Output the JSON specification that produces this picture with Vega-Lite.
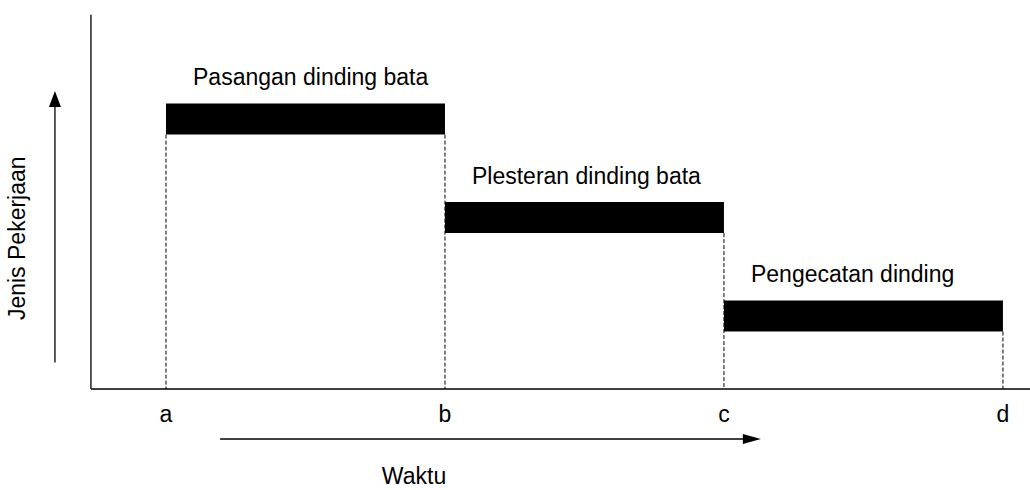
{
  "$schema": "https://vega.github.io/schema/vega-lite/v6.json",
  "width": 1030,
  "height": 490,
  "padding": 0,
  "autosize": {"type": "none"},
  "background": "white",
  "config": {"view": {"stroke": null}, "text": {"font": "Liberation Sans", "color": "black"}},
  "datasets": {
    "tasks": [
      {"task": "Pasangan dinding bata", "level": 3, "start": 0, "end": 1},
      {"task": "Plesteran dinding bata", "level": 2, "start": 1, "end": 2},
      {"task": "Pengecatan dinding", "level": 1, "start": 2, "end": 3}
    ],
    "ticks": [
      {"t": 0, "label": "a"},
      {"t": 1, "label": "b"},
      {"t": 2, "label": "c"},
      {"t": 3, "label": "d"}
    ],
    "titles": [
      {"t": -0.53, "level": 1.79, "label": "Jenis Pekerjaan", "angle": 270},
      {"t": 0.889, "level": -0.637, "label": "Waktu", "angle": 0}
    ]
  },
  "layer": [
    {
      "data": {"values": [{}]},
      "mark": {"type": "rule", "color": "black", "strokeWidth": 1.3},
      "encoding": {
        "x": {"datum": -0.269, "type": "quantitative", "scale": {"domain": [-0.595, 3.097], "nice": false, "zero": false}, "axis": null},
        "y": {"datum": 4.06, "type": "quantitative", "scale": {"domain": [-0.716, 4.159], "nice": false, "zero": false}, "axis": null},
        "y2": {"datum": 0.259}
      }
    },
    {
      "data": {"values": [{}]},
      "mark": {"type": "rule", "color": "black", "strokeWidth": 1.3},
      "encoding": {
        "x": {"datum": -0.269, "type": "quantitative"},
        "x2": {"datum": 3.097},
        "y": {"datum": 0.259, "type": "quantitative"}
      }
    },
    {
      "data": {"name": "tasks"},
      "mark": {"type": "bar", "color": "black", "height": 31, "orient": "horizontal"},
      "encoding": {
        "x": {"field": "start", "type": "quantitative"},
        "x2": {"field": "end"},
        "y": {"field": "level", "type": "quantitative"}
      }
    },
    {
      "data": {"name": "tasks"},
      "mark": {"type": "rule", "color": "black", "strokeWidth": 1, "strokeDash": [4, 2], "yOffset": 15.5},
      "encoding": {
        "x": {"field": "end", "type": "quantitative"},
        "y": {"field": "level", "type": "quantitative"},
        "y2": {"datum": 0.259}
      }
    },
    {
      "data": {"name": "tasks"},
      "transform": [{"filter": "datum.level == 3"}],
      "mark": {"type": "rule", "color": "black", "strokeWidth": 1, "strokeDash": [4, 2], "yOffset": 15.5},
      "encoding": {
        "x": {"field": "start", "type": "quantitative"},
        "y": {"field": "level", "type": "quantitative"},
        "y2": {"datum": 0.259}
      }
    },
    {
      "data": {"name": "tasks"},
      "mark": {"type": "text", "align": "left", "baseline": "middle", "dx": 27, "dy": -41, "fontSize": 23},
      "encoding": {
        "x": {"field": "start", "type": "quantitative"},
        "y": {"field": "level", "type": "quantitative"},
        "text": {"field": "task"}
      }
    },
    {
      "data": {"name": "ticks"},
      "mark": {"type": "text", "align": "center", "baseline": "middle", "dy": 26, "fontSize": 23},
      "encoding": {
        "x": {"field": "t", "type": "quantitative"},
        "y": {"datum": 0.259, "type": "quantitative"},
        "text": {"field": "label"}
      }
    },
    {
      "data": {"values": [{}]},
      "mark": {"type": "rule", "color": "black", "strokeWidth": 1.3},
      "encoding": {
        "x": {"datum": -0.398, "type": "quantitative"},
        "y": {"datum": 0.527, "type": "quantitative"},
        "y2": {"datum": 3.17}
      }
    },
    {
      "data": {"values": [{}]},
      "mark": {"type": "point", "filled": true, "color": "black", "opacity": 1, "size": 256, "shape": "M0,-1L0.75,1L-0.75,1Z"},
      "encoding": {
        "x": {"datum": -0.398, "type": "quantitative"},
        "y": {"datum": 3.204, "type": "quantitative"}
      }
    },
    {
      "data": {"values": [{}]},
      "mark": {"type": "rule", "color": "black", "strokeWidth": 1.3},
      "encoding": {
        "x": {"datum": 0.194, "type": "quantitative"},
        "x2": {"datum": 2.08},
        "y": {"datum": -0.249, "type": "quantitative"}
      }
    },
    {
      "data": {"values": [{}]},
      "mark": {"type": "point", "filled": true, "color": "black", "opacity": 1, "size": 324, "shape": "M1,0L-1,-0.55L-1,0.55Z"},
      "encoding": {
        "x": {"datum": 2.1, "type": "quantitative"},
        "y": {"datum": -0.249, "type": "quantitative"}
      }
    },
    {
      "data": {"name": "titles"},
      "mark": {"type": "text", "align": "center", "baseline": "middle", "fontSize": 23},
      "encoding": {
        "x": {"field": "t", "type": "quantitative"},
        "y": {"field": "level", "type": "quantitative"},
        "angle": {"field": "angle", "type": "quantitative", "scale": null},
        "text": {"field": "label"}
      }
    }
  ]
}
